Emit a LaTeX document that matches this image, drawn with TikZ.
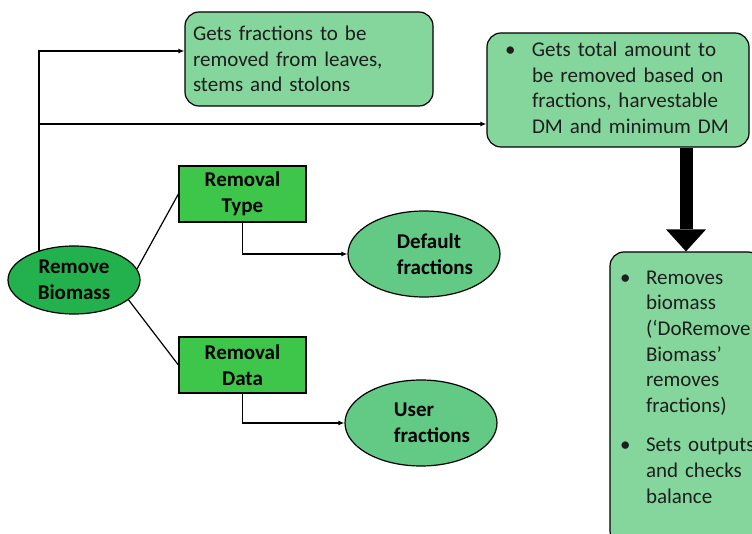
\documentclass[tikz,border=0pt]{standalone}
\usepackage{fontspec}
\setmainfont{Carlito}
\usetikzlibrary{shapes.geometric,arrows.meta}

\definecolor{boxgreen}{HTML}{85D69C}
\definecolor{ovalgreen}{HTML}{22B14C}
\definecolor{rectgreen}{HTML}{3EC64A}
\definecolor{outgreen}{HTML}{62CA84}
\definecolor{inkgray}{HTML}{1E1E1E}
\newcommand\diagfont{\fontsize{21}{25.6}\selectfont}

\tikzset{every picture/.style={line width=1.2pt}}
\tikzset{
  infobox/.style={draw, rounded corners=14pt, fill=boxgreen, align=left, text=inkgray, inner ysep=0pt},
  stepbox/.style={draw, fill=rectgreen, font=\diagfont\bfseries, align=center, inner sep=0pt, minimum width=127pt, minimum height=56pt},
  mainoval/.style={ellipse, draw, fill=ovalgreen, font=\diagfont\bfseries, align=center, inner sep=0pt, minimum width=132pt, minimum height=68pt},
  outoval/.style={ellipse, draw, fill=outgreen, font=\diagfont\bfseries, align=left, inner sep=0pt, minimum width=152pt, minimum height=86pt},
  link/.style={-{Latex[length=6pt,width=5pt]}}
}

\begin{document}
\begin{tikzpicture}[x=1pt,y=1pt,yscale=-1,font=\diagfont]
\useasboundingbox (0,0) rectangle (752,534);
\clip (0,0) rectangle (752,534);

%Shape: Rounded boxes
\node [infobox, inner xsep=8pt, text width=232pt, minimum height=94pt] (fa) at (309,59)
  {Gets fractions to be\\removed from leaves,\\stems and stolons};
\node [infobox, inner xsep=18pt, text width=226pt, minimum height=114pt] (tb) at (618,90)
  {\begin{tabular}{@{}p{27pt}@{}l@{}}
   \textbullet & Gets total amount to\\
   & be removed based on\\
   & fractions, harvestable\\
   & DM and minimum DM
   \end{tabular}};
\node [infobox, inner xsep=10pt, text width=132pt, minimum height=293pt] (rc) at (686,398.5)
  {\begin{tabular}{@{}p{26pt}@{}l@{}}
   \textbullet & Removes\\
   & biomass\\
   & (‘DoRemove\\
   & Biomass’\\
   & removes\\
   & fractions)\\[14pt]
   \textbullet & Sets outputs\\
   & and checks\\
   & balance\\[20pt]
   \end{tabular}};

%Shape: Ellipse
\node [mainoval] (rb) at (74,280) {Remove\\Biomass};
%Shape: Rectangles
\node [stepbox] (rt) at (242.5,194) {Removal\\Type};
\node [stepbox] (rd) at (242.5,365) {Removal\\Data};
%Shape: Ellipses
\node [outoval] (df) at (424,254) {\hspace*{22pt}Default\\\hspace*{22pt}fractions};
\node [outoval] (ue) at (421,423) {\hspace*{22pt}User\\\hspace*{22pt}fractions};

%Straight Lines
\coordinate (ja) at (0,51);
\coordinate (jb) at (0,124);
\draw [link] (rb.140) |- (ja -| fa.west);
\draw [link] (rb.140 |- jb) -- (jb -| tb.west);
\draw (rb.10) -- (rt.west);
\draw (rb.-20) -- (rd.west);
\draw [link] (rt.south) |- (df.west);
\draw [link] (rd.south) |- (ue.west);
%Block arrow
\draw [line width=13pt, -{Triangle[width=40pt,length=22pt,line width=0pt]}] (rc.north |- tb.south) -- (rc.north);
\end{tikzpicture}
\end{document}
